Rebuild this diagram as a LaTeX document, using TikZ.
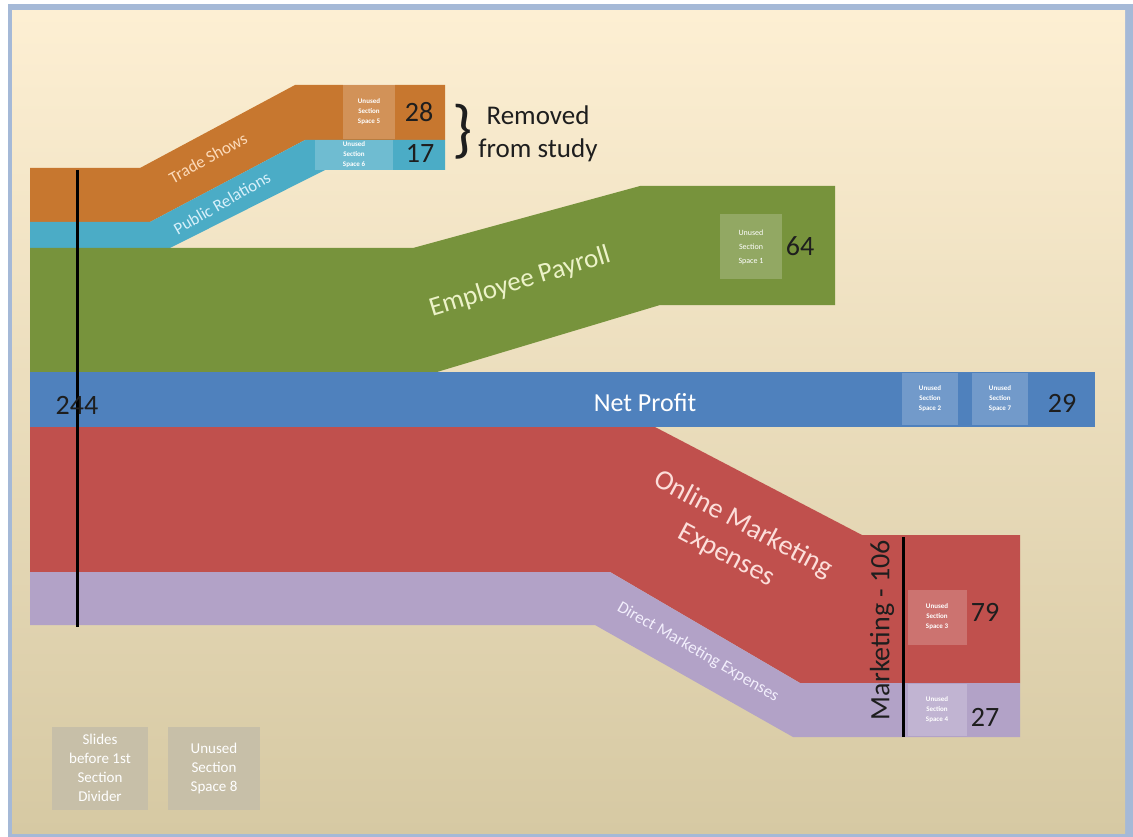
\documentclass[tikz,border=0pt]{standalone}
\usepackage{fontspec}
\setmainfont{Carlito}
\usepackage{tikz}
\definecolor{tradeorange}{RGB}{199,119,47}
\definecolor{prblue}{RGB}{75,172,198}
\definecolor{payrollgreen}{RGB}{119,147,60}
\definecolor{profitblue}{RGB}{79,129,189}
\definecolor{onlinered}{RGB}{192,80,77}
\definecolor{directpurple}{RGB}{178,162,199}
\definecolor{slidetop}{RGB}{253,239,211}
\definecolor{slidebottom}{RGB}{214,201,163}
\definecolor{slideframe}{RGB}{165,185,215}
\definecolor{numtext}{RGB}{30,30,30}
\definecolor{tradetext}{RGB}{252,218,185}
\definecolor{prtext}{RGB}{215,240,250}
\definecolor{payrolltext}{RGB}{236,242,200}
\definecolor{onlinetext}{RGB}{252,222,218}
\definecolor{directtext}{RGB}{242,238,252}
\definecolor{sparebox}{RGB}{199,191,168}

\tikzset{
  bandtext/.style={font=\fontsize{#1}{#1}\selectfont, inner sep=0pt},
  amount/.style={font=\fontsize{28}{28}\selectfont, text=numtext, inner sep=0pt},
  unused/.style={fill=white, fill opacity=0.2, text opacity=1, text=white, align=center,
    font=\fontsize{7}{10}\selectfont\bfseries, inner sep=0pt},
  spare/.style={fill=sparebox, text=white, align=center, inner sep=0pt,
    font=\fontsize{15}{19}\selectfont, minimum height=83pt},
  marker/.style={line width=3pt, black}
}

\begin{document}
\begin{tikzpicture}[x=1pt,y=-1pt]
	\useasboundingbox (0,0) rectangle (1133,837);
	\fill[white] (0,0) rectangle (1133,837);
	\fill[slideframe] (8,4) rectangle (1133,837);
	\shade[top color=slidetop, bottom color=slidebottom] (12,11) rectangle (1125,833);

	\fill[tradeorange] (30,168) -- (140,168) -- (295,85) -- (445,85) -- (445,140) -- (305,140) -- (150,222) -- (30,222) -- cycle;
	\fill[prblue] (30,222) -- (150,222) -- (305,140) -- (445,140) -- (445,170) -- (325,170) -- (170,248) -- (30,248) -- cycle;
	\fill[payrollgreen] (30,248) -- (413,248) -- (640,186) -- (835,186) -- (835,305) -- (660,305) -- (437,372) -- (30,372) -- cycle;
	\fill[profitblue] (30,372) rectangle (1095,427);
	\fill[onlinered] (30,427) -- (655,427) -- (862,535) -- (1020,535) -- (1020,683) -- (800,683) -- (610,572) -- (30,572) -- cycle;
	\fill[directpurple] (30,572) -- (610,572) -- (800,683) -- (1020,683) -- (1020,737) -- (793,737) -- (595,625) -- (30,625) -- cycle;

	\draw[marker] (77,170) -- (77,627);
	\draw[marker] (903,537) -- (903,737);

	\node[bandtext=17, text=tradetext, rotate=29] (trade) at (208,158) {Trade Shows};
	\node[bandtext=17, text=prtext, rotate=30] (pr) at (222,203) {Public Relations};
	\node[bandtext=27, text=payrolltext, rotate=17] (payroll) at (520,282) {Employee Payroll};
	\node[bandtext=26, text=white] (profit) at (645,403) {Net Profit};
	\node[bandtext=28, text=onlinetext, rotate=-28, align=center, font=\fontsize{28}{35}\selectfont] (online) at (735,540) {Online Marketing\\Expenses};
	\node[bandtext=17, text=directtext, rotate=-30] (direct) at (698,652) {Direct Marketing Expenses};

	\node[unused, minimum width=52pt, minimum height=55pt] (space5) at (369,112) {Unused\\Section\\Space 5};
	\node[unused, minimum width=78pt, minimum height=30pt] (space6) at (354,155) {Unused\\Section\\Space 6};
	\node[unused, minimum width=62pt, minimum height=65pt, font=\fontsize{8}{14}\selectfont] (space1) at (751,247) {Unused\\Section\\Space 1};
	\node[unused, minimum width=56pt, minimum height=52pt] (space2) at (930,399) {Unused\\Section\\Space 2};
	\node[unused, minimum width=56pt, minimum height=52pt] (space7) at (1000,399) {Unused\\Section\\Space 7};
	\node[unused, minimum width=59pt, minimum height=55pt] (space3) at (937,617) {Unused\\Section\\Space 3};
	\node[unused, minimum width=59pt, minimum height=52pt] (space4) at (937,710) {Unused\\Section\\Space 4};

	\node[spare, minimum width=96pt] (before) at (100,768) {Slides\\before 1st\\Section\\Divider};
	\node[spare, minimum width=92pt] (space8) at (214,768) {Unused\\Section\\Space 8};

	\node[amount] (trade amt) at (419,112) {28};
	\node[amount] (pr amt) at (420,153) {17};
	\node[amount] (payroll amt) at (800,246) {64};
	\node[amount] (profit amt) at (1062,403) {29};
	\node[amount] (online amt) at (985,612) {79};
	\node[amount] (direct amt) at (985,717) {27};
	\node[amount] (total) at (77,405) {244};
	\node[amount, rotate=90] (marketing) at (882,630) {Marketing - 106};

	\node[amount, font=\fontsize{64}{64}\selectfont] (brace) at (463,132) {\}};
	\node[amount, align=center, font=\fontsize{27}{33}\selectfont] (removed) at (538,134) {Removed\\from study};
\end{tikzpicture}
\end{document}
